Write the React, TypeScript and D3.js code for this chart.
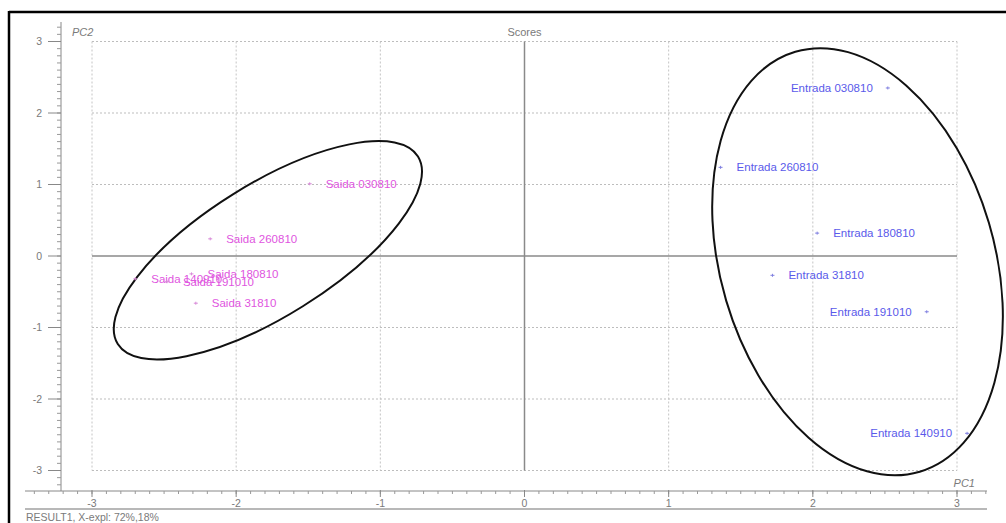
import React from "react";
import * as d3 from "d3";

const saidaNames = ["Saida 030810", "Saida 260810", "Saida 140910", "Saida 191010", "Saida 180810", "Saida 31810"];
const saidaPC1 = [-1.49, -2.18, -2.70, -2.48, -2.31, -2.28];
const saidaPC2 = [1.01, 0.24, -0.32, -0.36, -0.25, -0.66];

const entradaNames = ["Entrada 030810", "Entrada 260810", "Entrada 180810", "Entrada 31810", "Entrada 191010", "Entrada 140910"];
const entradaPC1 = [2.52, 1.36, 2.03, 1.72, 2.79, 3.07];
const entradaPC2 = [2.35, 1.24, 0.32, -0.27, -0.78, -2.48];
const entradaLabelSide = ["left", "right", "right", "right", "left", "left"];

const majorTicks = [-3, -2, -1, 0, 1, 2, 3];
const gridValues = [-3, -2, -1, 1, 2, 3];

// confidence ellipses: centre in PC units, radii in px, rotation in degrees
const ellipseCX = [-1.78, 2.31];
const ellipseCY = [0.08, -0.08];
const ellipseRX = [177, 137];
const ellipseRY = [66, 219];
const ellipseRot = [-32, -16.5];

const W = 1006;
const H = 523;
const FONT = "'Liberation Sans', Arial, sans-serif";

export default function App() {
  const x = d3.scaleLinear().domain([-3, 3]).range([92, 957]);
  const y = d3.scaleLinear().domain([-3, 3]).range([470.5, 41.5]);

  const axisX = 61; // y axis position (px)
  const axisY = 491; // x axis position (px)
  const yMinor = d3.range(-32, 33).map((v) => v / 10);
  const xMinor = d3.range(-34, 33).map((v) => v / 10);

  const saidaColor = "#e055e0";
  const entradaColor = "#5a5aea";
  const grey = "#7a7a7a";

  return (
    <svg width={W} height={H} style={{ position: "absolute", left: 0, top: 0, background: "#fff" }} fontFamily={FONT}>
      <rect x={0} y={0} width={W} height={H} fill="#fff" />
      {/* frame */}
      <line x1={9} y1={12} x2={W} y2={12} stroke="#000" strokeWidth={2.5} />
      <line x1={9} y1={11} x2={9} y2={H} stroke="#000" strokeWidth={2.5} />

      {/* grid */}
      {gridValues.map((v) => (
        <line key={"gh" + v} x1={x(-3)} x2={x(3)} y1={y(v)} y2={y(v)} stroke="#bdbdbd" strokeWidth={1} strokeDasharray="2,2" />
      ))}
      {gridValues.map((v) => (
        <line key={"gv" + v} x1={x(v)} x2={x(v)} y1={y(3)} y2={y(-3)} stroke="#c4c4c4" strokeWidth={1} strokeDasharray="2,2" />
      ))}

      {/* zero lines */}
      <line x1={x(-3)} x2={x(3)} y1={y(0)} y2={y(0)} stroke="#8a8a8a" strokeWidth={1.5} />
      <line x1={x(0)} x2={x(0)} y1={y(3)} y2={y(-3)} stroke="#8a8a8a" strokeWidth={1.5} />

      {/* y axis */}
      <line x1={axisX} x2={axisX} y1={22} y2={axisY} stroke="#888" strokeWidth={1} />
      {yMinor.map((v) => (
        <line key={"ym" + v} x1={axisX - 4} x2={axisX} y1={y(v)} y2={y(v)} stroke="#999" strokeWidth={1} />
      ))}
      {majorTicks.map((v) => (
        <g key={"yt" + v}>
          <line x1={axisX - 13} x2={axisX} y1={y(v)} y2={y(v)} stroke="#888" strokeWidth={1} />
          <text x={axisX - 19} y={y(v)} dy="0.35em" textAnchor="end" fontSize={10.5} fill={grey}>
            {v}
          </text>
        </g>
      ))}

      {/* x axis */}
      <line x1={25} x2={987} y1={axisY} y2={axisY} stroke="#888" strokeWidth={1} />
      {xMinor.map((v) => (
        <line key={"xm" + v} x1={x(v)} x2={x(v)} y1={axisY} y2={axisY + 3} stroke="#999" strokeWidth={1} />
      ))}
      {majorTicks.map((v) => (
        <g key={"xt" + v}>
          <line x1={x(v)} x2={x(v)} y1={axisY - 1} y2={axisY + 6} stroke="#888" strokeWidth={1} />
          <text x={x(v)} y={axisY + 16} textAnchor="middle" fontSize={10.5} fill={grey}>
            {v}
          </text>
        </g>
      ))}
      <line x1={25} x2={987} y1={509} y2={509} stroke="#b8b8b8" strokeWidth={2} />
      <text x={26} y={521} fontSize={10.5} fill={grey}>RESULT1, X-expl: 72%,18%</text>

      {/* titles */}
      <text x={x(0)} y={36} textAnchor="middle" fontSize={11} fill={grey}>Scores</text>
      <text x={72} y={36} fontSize={11} fontStyle="italic" fill={grey}>PC2</text>
      <text x={975} y={487} textAnchor="end" fontSize={11} fontStyle="italic" fill={grey}>PC1</text>

      {/* ellipses */}
      {ellipseCX.map((cx, i) => (
        <ellipse
          key={"el" + i}
          cx={0}
          cy={0}
          rx={ellipseRX[i]}
          ry={ellipseRY[i]}
          transform={`translate(${x(cx)},${y(ellipseCY[i])}) rotate(${ellipseRot[i]})`}
          fill="none"
          stroke="#111"
          strokeWidth={2}
        />
      ))}

      {/* Saida points */}
      {saidaNames.map((n, i) => {
        const px = x(saidaPC1[i]);
        const py = y(saidaPC2[i]);
        return (
          <g key={n}>
            <path d={`M${px - 2},${py}H${px + 2}M${px},${py - 1.5}V${py + 1.5}`} stroke="#d88ad8" strokeWidth={1} />
            <text x={px + 16} y={py} dy="0.35em" fontSize={11.5} fill={saidaColor}>
              {n}
            </text>
          </g>
        );
      })}

      {/* Entrada points */}
      {entradaNames.map((n, i) => {
        const px = x(entradaPC1[i]);
        const py = y(entradaPC2[i]);
        const left = entradaLabelSide[i] === "left";
        return (
          <g key={n}>
            <path d={`M${px - 2},${py}H${px + 2}M${px},${py - 1.5}V${py + 1.5}`} stroke="#8080e0" strokeWidth={1} />
            <text x={left ? px - 15 : px + 16} y={py} dy="0.35em" textAnchor={left ? "end" : "start"} fontSize={11.5} fill={entradaColor}>
              {n}
            </text>
          </g>
        );
      })}
    </svg>
  );
}
